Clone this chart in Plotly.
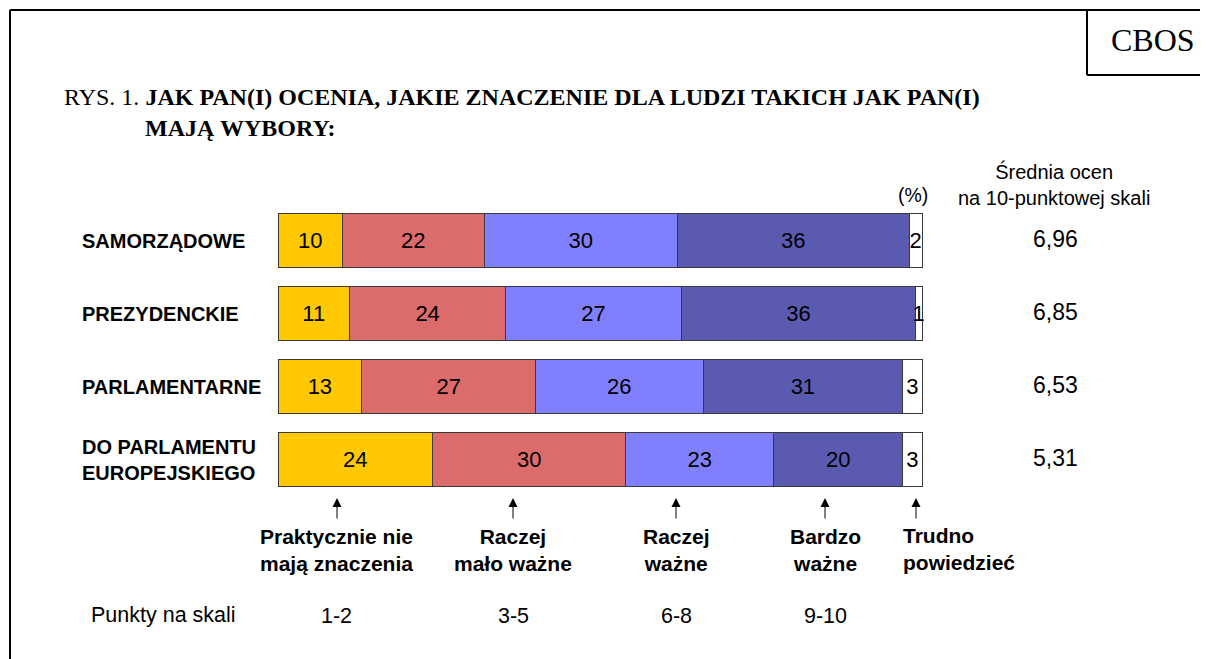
import plotly.graph_objects as go

W, H = 1208, 659
OFF = 8  # page body margin offset

categories = ["SAMORZĄDOWE", "PREZYDENCKIE", "PARLAMENTARNE", "DO PARLAMENTU<br>EUROPEJSKIEGO"]
series_names = ["Praktycznie nie mają znaczenia", "Raczej mało ważne", "Raczej ważne", "Bardzo ważne", "Trudno powiedzieć"]
vals_1_2 = [10, 11, 13, 24]
vals_3_5 = [22, 24, 27, 30]
vals_6_8 = [30, 27, 26, 23]
vals_9_10 = [36, 36, 31, 20]
vals_dk = [2, 1, 3, 3]
means = ["6,96", "6,85", "6,53", "5,31"]
scale_labels = ["Praktycznie nie<br>mają znaczenia", "Raczej<br>mało ważne", "Raczej<br>ważne", "Bardzo<br>ważne"]
scale_points = ["1-2", "3-5", "6-8", "9-10"]
colors = ["#FFC800", "#DC6C6C", "#8080FF", "#5A5AB0", "#FFFFFF"]

SANS = "Arial, Liberation Sans, sans-serif"
SERIF = "Times New Roman, Liberation Serif, serif"

def px(x):
    return (x - OFF) / W

def py(y):
    return 1 - (y - OFF) / H

# bar area: 0% at x=278px, 100% at x=922px; pad domain so outlines are not clipped
X0, X100, PAD = 278, 922, 4
unit = (X100 - X0) / 100.0

fig = go.Figure()
for name, vals, col in zip(series_names, [vals_1_2, vals_3_5, vals_6_8, vals_9_10, vals_dk], colors):
    fig.add_trace(go.Bar(
        y=categories, x=vals, name=name, orientation="h",
        marker=dict(color=col, line=dict(color="#3a3a3a", width=1)),
        text=[str(v) for v in vals], texttemplate="%{text}",
        textposition="inside", insidetextanchor="middle",
        textfont=dict(family=SANS, size=22, color="black"),
        constraintext="none", width=0.753, hoverinfo="skip",
    ))

fig.update_layout(
    width=W, height=H, barmode="stack", barnorm="percent",
    margin=dict(l=0, r=0, t=0, b=0),
    paper_bgcolor="white", plot_bgcolor="white", showlegend=False,
    uniformtext=dict(minsize=22, mode="show"),
    xaxis=dict(domain=[px(X0 - PAD), px(X100 + PAD)], range=[-PAD / unit, 100 + PAD / unit],
               visible=False, fixedrange=True),
    yaxis=dict(domain=[py(496), py(204)], visible=False, autorange="reversed", type="category"),
)

ann = []
# category labels
for c in categories:
    ann.append(dict(x=px(80), y=c, xref="paper", yref="y", text=f"<b>{c}</b>", showarrow=False,
                    xanchor="left", yanchor="middle", align="left",
                    font=dict(family=SANS, size=20, color="black")))
# means
for c, m in zip(categories, means):
    ann.append(dict(x=px(1055), y=c, xref="paper", yref="y", text=m, showarrow=False,
                    xanchor="center", yanchor="middle", yshift=2,
                    font=dict(family=SANS, size=23, color="black")))
ann.append(dict(x=px(1054), y=py(185), xref="paper", yref="paper",
                text="Średnia ocen<br>na 10-punktowej skali", showarrow=False,
                xanchor="center", yanchor="middle", font=dict(family=SANS, size=20, color="black")))
ann.append(dict(x=px(913), y=py(195), xref="paper", yref="paper", text="(%)", showarrow=False,
                xanchor="center", yanchor="middle", font=dict(family=SANS, size=19.5, color="black")))
# title
ann.append(dict(x=px(62), y=py(97), xref="paper", yref="paper",
                text="RYS. 1. <b>JAK PAN(I) OCENIA, JAKIE ZNACZENIE DLA LUDZI TAKICH JAK PAN(I)</b>",
                showarrow=False, xanchor="left", yanchor="middle",
                font=dict(family=SERIF, size=24, color="black")))
ann.append(dict(x=px(143), y=py(128), xref="paper", yref="paper", text="<b>MAJĄ WYBORY:</b>",
                showarrow=False, xanchor="left", yanchor="middle",
                font=dict(family=SERIF, size=24, color="black")))
ann.append(dict(x=px(1153), y=py(40), xref="paper", yref="paper", text="CBOS", showarrow=False,
                xanchor="center", yanchor="middle", font=dict(family=SERIF, size=32, color="black")))
# arrows and scale labels
arrow_x = [337, 513, 676, 825, 916]
for xx in arrow_x:
    ann.append(dict(x=px(xx), y=py(498), xref="paper", yref="paper", ax=0, ay=22,
                    axref="pixel", ayref="pixel", text="", showarrow=True, arrowhead=2,
                    arrowsize=1.8, arrowwidth=1, arrowcolor="black"))
for xx, lab, pt in zip(arrow_x[:4], scale_labels, scale_points):
    ann.append(dict(x=px(xx), y=py(550), xref="paper", yref="paper", text=f"<b>{lab}</b>",
                    showarrow=False, xanchor="center", yanchor="middle", align="center",
                    font=dict(family=SANS, size=21, color="black")))
    ann.append(dict(x=px(xx), y=py(616), xref="paper", yref="paper", text=pt,
                    showarrow=False, xanchor="center", yanchor="middle",
                    font=dict(family=SANS, size=21.5, color="black")))
ann.append(dict(x=px(901), y=py(549), xref="paper", yref="paper", text="<b>Trudno<br>powiedzieć</b>",
                showarrow=False, xanchor="left", yanchor="middle", align="left",
                font=dict(family=SANS, size=21, color="black")))
ann.append(dict(x=px(89), y=py(615), xref="paper", yref="paper", text="Punkty na skali",
                showarrow=False, xanchor="left", yanchor="middle",
                font=dict(family=SANS, size=21.5, color="black")))
fig.update_layout(annotations=ann)

shapes = [
    dict(type="line", xref="paper", yref="paper", x0=px(10), y0=py(10), x1=px(10), y1=py(720),
         line=dict(color="black", width=2)),
    dict(type="line", xref="paper", yref="paper", x0=px(10), y0=py(10), x1=px(1230), y1=py(10),
         line=dict(color="black", width=2)),
    dict(type="line", xref="paper", yref="paper", x0=px(1087), y0=py(10), x1=px(1087), y1=py(75),
         line=dict(color="black", width=2)),
    dict(type="line", xref="paper", yref="paper", x0=px(1087), y0=py(75), x1=px(1230), y1=py(75),
         line=dict(color="black", width=2)),
]
fig.update_layout(shapes=shapes)

fig.write_html("out.html")
